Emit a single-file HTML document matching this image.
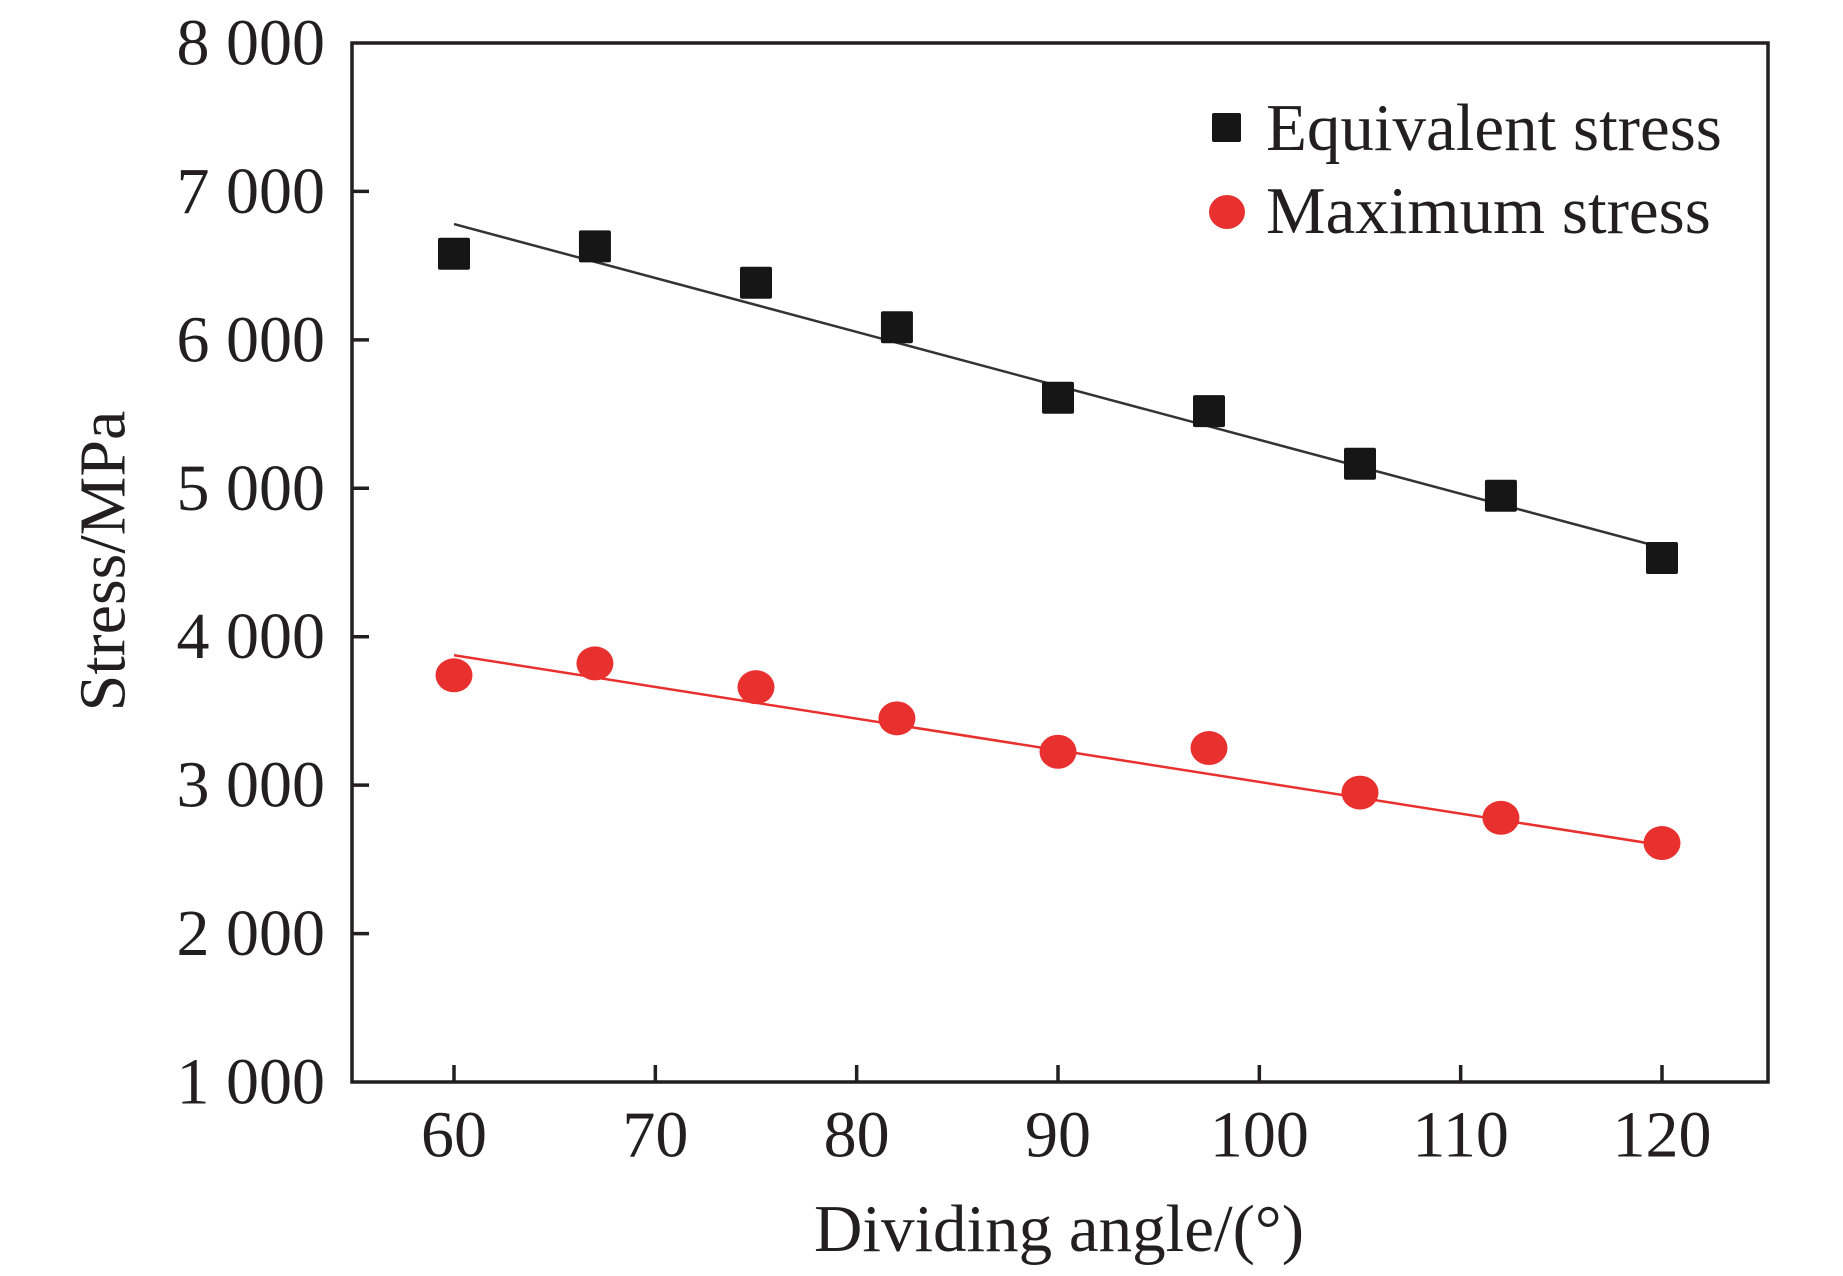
<!DOCTYPE html>
<html><head><meta charset="utf-8"><style>
html,body{margin:0;padding:0;background:#fff;}
svg{display:block;font-family:"Liberation Serif",serif;}
</style></head><body>
<svg id="chart" width="1843" height="1276" viewBox="0 0 1843 1276">
<rect x="352" y="43" width="1416" height="1039" fill="none" stroke="#231f20" stroke-width="3.5"/>
<g id="axes"></g>
<g id="series"></g>
<text x="103" y="561" transform="rotate(-90 103 561)" text-anchor="middle" dominant-baseline="central" font-size="66" fill="#231f20">Stress/MPa</text>
<text x="1059" y="1229" text-anchor="middle" dominant-baseline="central" font-size="67" fill="#231f20">Dividing angle/(°)</text>
<g>
<rect x="1212" y="113" width="29" height="29" fill="#161616" rx="2"/>
<text x="1266" y="150" font-size="67" fill="#231f20">Equivalent stress</text>
<ellipse cx="1227" cy="212" rx="18" ry="17" fill="#e8312f"/>
<text x="1266" y="233" font-size="67" fill="#231f20">Maximum stress</text>
</g>
</svg>
<script>
const xTicks = [60, 70, 80, 90, 100, 110, 120];
const yTicks = [1000, 2000, 3000, 4000, 5000, 6000, 7000, 8000];
const yTickLabels = ["1 000","2 000","3 000","4 000","5 000","6 000","7 000","8 000"];
const angles = [60, 67, 75, 82, 90, 97.5, 105, 112, 120];
const equivalentStress = [6580, 6630, 6385, 6085, 5610, 5520, 5165, 4950, 4530];
const maximumStress = [3740, 3820, 3660, 3450, 3225, 3250, 2950, 2780, 2610];
const equivalentFit = [[60, 6780], [120, 4600]];
const maximumFit = [[60, 3875], [120, 2595]];

const NS = "http://www.w3.org/2000/svg";
function X(v){ return 454 + (v - 60) * (1662 - 454) / 60; }
function Y(v){ return 1082 - (v - 1000) * (1082 - 43) / 7000; }
function mk(tag, attrs, parent){ const e = document.createElementNS(NS, tag); for (const k in attrs) e.setAttribute(k, attrs[k]); parent.appendChild(e); return e; }
const axes = document.getElementById('axes');
const series = document.getElementById('series');
xTicks.forEach(function(t){
  const l = mk('line', {x1: X(t), x2: X(t), y1: 1082, y2: 1065, stroke: '#231f20', 'stroke-width': 3.5}, axes);
  
  
  const tx = mk('text', {x: X(t), y: 1135, 'text-anchor': 'middle', 'dominant-baseline': 'central', 'font-size': 66, fill: '#231f20'}, axes);
  tx.textContent = t;
  
  
});
yTicks.forEach(function(t, i){
  if (t !== 1000 && t !== 8000) {
    const l = mk('line', {x1: 352, x2: 369, y1: Y(t), y2: Y(t), stroke: '#231f20', 'stroke-width': 3.5}, axes);
    
    
  }
  const tx = mk('text', {x: 325, y: Y(t), 'text-anchor': 'end', 'dominant-baseline': 'central', 'font-size': 66, fill: '#231f20'}, axes);
  tx.textContent = yTickLabels[i];
  
  
});
const f1 = mk('line', {x1: X(equivalentFit[0][0]), y1: Y(equivalentFit[0][1]), x2: X(equivalentFit[1][0]), y2: Y(equivalentFit[1][1]), stroke: '#333', 'stroke-width': 2.5}, series);


const f2 = mk('line', {x1: X(maximumFit[0][0]), y1: Y(maximumFit[0][1]), x2: X(maximumFit[1][0]), y2: Y(maximumFit[1][1]), stroke: '#e8312f', 'stroke-width': 2.5}, series);


angles.forEach(function(a, i){
  const s = mk('rect', {x: X(a) - 16, y: Y(equivalentStress[i]) - 16, width: 32, height: 32, rx: 2, fill: '#161616'}, series);
  
  
  const c = mk('ellipse', {cx: X(a), cy: Y(maximumStress[i]), rx: 18.5, ry: 17, fill: '#e8312f'}, series);
  
  
});
</script>
</body></html>
